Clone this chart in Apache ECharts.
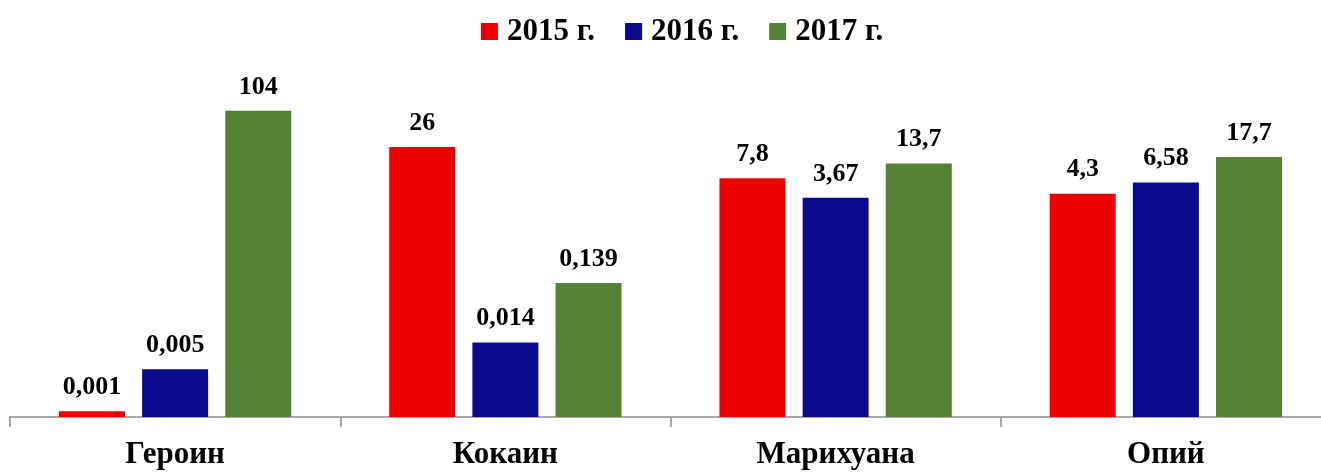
<!DOCTYPE html>
<html>
<head>
<meta charset="utf-8">
<script src="https://cdn.jsdelivr.net/npm/echarts@6/dist/echarts.min.js"></script>
<style>
html, body { margin: 0; padding: 0; background: #fff; }
#chart { width: 1321px; height: 472px; }
</style>
</head>
<body>
<div id="chart"></div>
<script>
var categories = ['Героин', 'Кокаин', 'Марихуана', 'Опий'];
var seriesNames = ['2015 г.', '2016 г.', '2017 г.'];
var values2015 = [0.001, 26, 7.8, 4.3];
var values2016 = [0.005, 0.014, 3.67, 6.58];
var values2017 = [104, 0.139, 13.7, 17.7];
var colors = ['#ee0000', '#0a0a8c', '#548235'];

var fontFam = '"Liberation Serif", "Times New Roman", serif';
// логарифмическая шкала, отсчёт от нижней границы
var logMin = Math.log10(0.0008);
var logMax = Math.log10(1000);

function mkSeries(name, data, color) {
    return {
        name: name,
        type: 'bar',
        data: data.map(function (v) { return Math.log10(v) - logMin; }),
        barWidth: 66,
        barGap: '26%',
        itemStyle: { color: color },
        label: {
            show: true,
            position: 'top',
            distance: 11,
            color: '#000',
            fontFamily: fontFam,
            fontWeight: 'bold',
            fontSize: 26,
            formatter: function (p) {
                return String(data[p.dataIndex]).replace('.', ',');
            }
        }
    };
}

var myChart = echarts.init(document.getElementById('chart'));
myChart.setOption({
    animation: false,
    color: colors,
    legend: {
        top: 11,
        left: 476,
        itemWidth: 17,
        itemHeight: 17,
        itemGap: 30,
        icon: 'rect',
        textStyle: {
            color: '#000',
            fontFamily: fontFam,
            fontWeight: 'bold',
            fontSize: 31,
            padding: [0, 0, 0, 4]
        },
        data: seriesNames
    },
    grid: {
        left: 10,
        width: 1321,
        top: 52,
        bottom: 55,
        outerBoundsMode: 'none',
        containLabel: false
    },
    xAxis: {
        type: 'category',
        data: categories,
        axisLine: { lineStyle: { color: '#8c8c8c', width: 1.5 } },
        axisTick: { show: true, length: 10, lineStyle: { color: '#8c8c8c', width: 1.5 } },
        axisLabel: {
            color: '#000',
            fontFamily: fontFam,
            fontWeight: 'bold',
            fontSize: 31,
            margin: 22
        }
    },
    yAxis: {
        type: 'value',
        min: 0,
        max: logMax - logMin,
        show: false,
        splitLine: { show: false }
    },
    series: [
        mkSeries(seriesNames[0], values2015, colors[0]),
        mkSeries(seriesNames[1], values2016, colors[1]),
        mkSeries(seriesNames[2], values2017, colors[2])
    ]
});
</script>
</body>
</html>
